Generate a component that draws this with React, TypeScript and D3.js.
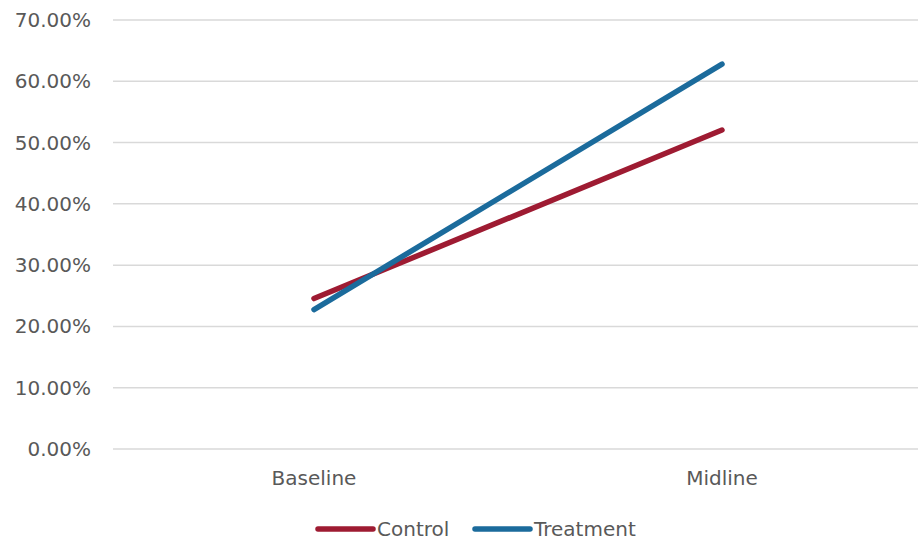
import React from "react";
import * as d3 from "d3";

const categories = ["Baseline", "Midline"];
const controlValues = [0.2455, 0.5205];
const treatmentValues = [0.2275, 0.628];
const yTicks = [0, 0.1, 0.2, 0.3, 0.4, 0.5, 0.6, 0.7];
const seriesNames = ["Control", "Treatment"];
const seriesColors = ["#9E1B32", "#1B6B9C"];

export default function App() {
  const W = 918, H = 543;
  const x = d3.scaleBand<string>().domain(categories).range([110, 926]);
  const y = d3.scaleLinear().domain([0, 0.7]).range([449, 20]);
  const fmt = d3.format(".2%");
  const line = d3
    .line<number>()
    .x((_, i) => (x(categories[i]) as number) + x.bandwidth() / 2)
    .y((d) => y(d));
  const series = [controlValues, treatmentValues];
  const font = "'DejaVu Sans', 'Liberation Sans', Arial, sans-serif";
  const fs = 20;
  const legendX = [318, 475];
  return (
    <svg
      width={W}
      height={H}
      style={{ position: "absolute", left: 0, top: 0, background: "#fff" }}
      fontFamily={font}
    >
      {yTicks.map((t) => (
        <g key={t}>
          <line x1={113} x2={918} y1={y(t)} y2={y(t)} stroke="#D9D9D9" strokeWidth={1.5} />
          <text x={91} y={y(t)} dy="0.35em" textAnchor="end" fontSize={fs} fill="#595959">
            {fmt(t)}
          </text>
        </g>
      ))}
      {categories.map((c) => (
        <text
          key={c}
          x={(x(c) as number) + x.bandwidth() / 2}
          y={478}
          dy="0.35em"
          textAnchor="middle"
          fontSize={fs}
          fill="#595959"
        >
          {c}
        </text>
      ))}
      {series.map((s, i) => (
        <path
          key={i}
          d={line(s) || ""}
          fill="none"
          stroke={seriesColors[i]}
          strokeWidth={5.5}
          strokeLinecap="round"
        />
      ))}
      {seriesNames.map((n, i) => (
        <g key={n}>
          <line
            x1={legendX[i]}
            x2={legendX[i] + 55}
            y1={529}
            y2={529}
            stroke={seriesColors[i]}
            strokeWidth={5.5}
            strokeLinecap="round"
          />
          <text x={legendX[i] + 59} y={529} dy="0.35em" fontSize={fs} fill="#595959">
            {n}
          </text>
        </g>
      ))}
    </svg>
  );
}
